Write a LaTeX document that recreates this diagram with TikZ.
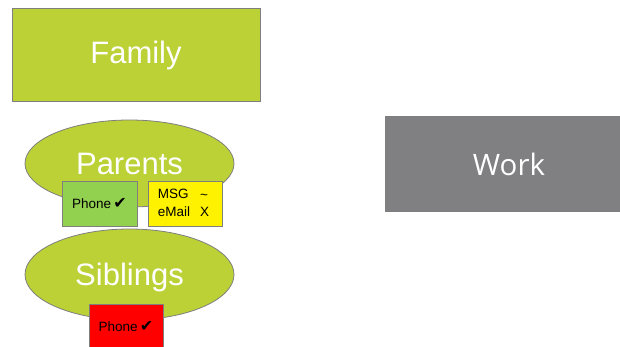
\documentclass[tikz,border=0pt]{standalone}
\usepackage{fontspec}
\setmainfont{Liberation Sans}
\newfontfamily\workfont{Open Sans}
\newfontfamily\symfont{DejaVu Sans}
\usetikzlibrary{shapes.geometric}
\definecolor{famgreen}{HTML}{BCD135}
\definecolor{lightgreen}{HTML}{92D050}
\definecolor{workgray}{HTML}{808083}
\definecolor{edgegray}{HTML}{7F7F7F}
\tikzset{
  bigbox/.style={draw=edgegray, line width=0.8pt, rectangle, inner sep=0pt, text=white, font=\fontsize{31}{31}\selectfont},
  oval/.style={draw=edgegray, line width=0.8pt, ellipse, fill=famgreen, inner sep=0pt, minimum width=209pt, minimum height=87pt},
  ovaltext/.style={text=white, font=\fontsize{31}{31}\selectfont, inner sep=0pt},
  smallbox/.style={draw=edgegray, line width=0.8pt, rectangle, inner sep=0pt, minimum width=75pt, minimum height=45pt},
  smalltext/.style={font=\fontsize{13.5}{16}\selectfont, inner sep=0pt, text=black},
}
\newcommand{\chk}{{\symfont\fontsize{16}{16}\selectfont ✔}}
\begin{document}
\begin{tikzpicture}[x=1pt,y=-1pt]
\useasboundingbox (0,0) rectangle (620,347);
% Family
\node[bigbox, fill=famgreen, minimum width=248pt, minimum height=93pt] (family) at (136,54.5) {};
\node[ovaltext] (familyt) at (136,55) {Family};
% Work
\node[bigbox, fill=workgray, minimum width=238pt, minimum height=95pt] (work) at (504,163.5) {};
\node[text=white, inner sep=0pt, font=\workfont\fontsize{29.5}{29.5}\selectfont] (workt) at (509,164) {Work};
% Parents
\node[oval] (parents) at (129.5,163.5) {};
\node[ovaltext] (parentst) at (129.5,164) {Parents};
% Siblings
\node[oval, minimum height=91pt] (siblings) at (129.5,274.5) {};
\node[ovaltext] (siblingst) at (129.5,277) {Siblings};
% Parents contact boxes
\node[smallbox, fill=lightgreen] (pphone) at (99.5,203.5) {};
\node[smalltext] (pphonet) at (99.5,204) {Phone\,\chk};
\node[smallbox, fill=yellow, minimum width=74pt] (pmsg) at (185,203.5) {};
\node[smalltext, anchor=center] (pmsgt) at (183.5,204.5) {\begin{tabular}{@{}l@{\hspace{10pt}}l@{}}MSG & \raisebox{-1pt}{\textasciitilde}\\[1.5pt] eMail & X\end{tabular}};
% Siblings contact box
\node[smallbox, fill=red, minimum width=74pt, minimum height=46pt] (sphone) at (126,327) {};
\node[smalltext] (sphonet) at (126,327) {Phone\,\chk};
\end{tikzpicture}
\end{document}
